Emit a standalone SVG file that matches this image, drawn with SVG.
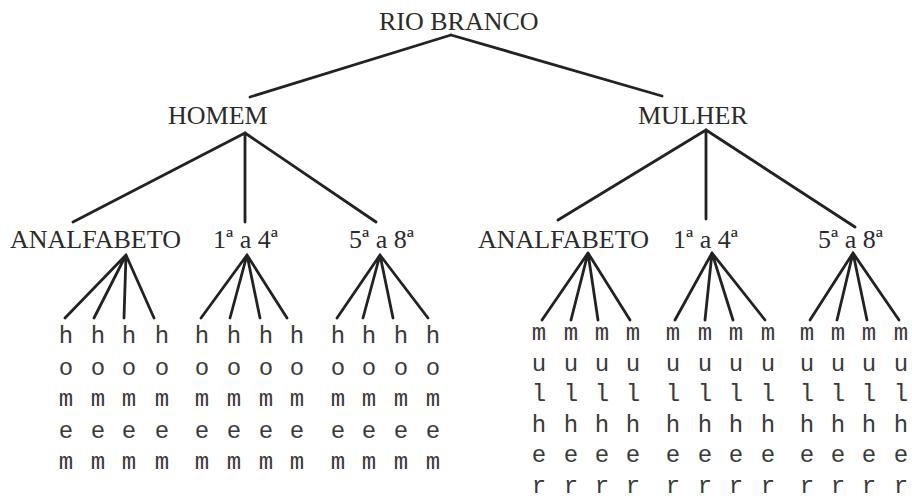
<svg xmlns="http://www.w3.org/2000/svg" width="912" height="502" viewBox="0 0 912 502">
<style>
.lbl{font-family:"Liberation Serif","Times New Roman",serif;font-size:26px;fill:#2b2b2b}
.leaf{font-family:"Courier New","Liberation Mono",monospace;font-size:24px;fill:#3a3a3a;text-anchor:middle}
.edge{stroke:#222;stroke-width:2.8;fill:none;stroke-linecap:round}
</style>
<rect width="912" height="502" fill="#fff"/>
<g id="connectors" class="edge">
<path d="M451,35 L250,97 M451,35 L662,96"/>
<path d="M245,133 L73,222 M245,133 L245,222 M245,133 L376,222"/>
<path d="M706,130 L558,220 M706,130 L706,219 M706,130 L855,227"/>
<path d="M126,255 L65,318 M126,255 L94,318 M126,255 L124,318 M126,255 L154,318"/>
<path d="M247,255 L201,318 M247,255 L230,318 M247,255 L260,318 M247,255 L287,318"/>
<path d="M380,255 L337,318 M380,255 L363,318 M380,255 L393,318 M380,255 L428,318"/>
<path d="M588,253 L542,320 M588,253 L571,320 M588,253 L598,320 M588,253 L630,320"/>
<path d="M712,253 L675,320 M712,253 L705,320 M712,253 L733,320 M712,253 L765,320"/>
<path d="M853,253 L810,320 M853,253 L837,320 M853,253 L867,320 M853,253 L899,320"/>
</g>
<g id="rio-branco"><text class="lbl" x="379" y="30">RIO BRANCO</text></g>
<g id="homem"><text class="lbl" x="168" y="124">HOMEM</text></g>
<g id="mulher"><text class="lbl" x="638" y="124">MULHER</text></g>
<g id="h-analfabeto"><text class="lbl" x="10" y="248">ANALFABETO</text></g>
<g id="h-1a4"><text class="lbl" x="213" y="248">1ª a 4ª</text></g>
<g id="h-5a8"><text class="lbl" x="349" y="248">5ª a 8ª</text></g>
<g id="m-analfabeto"><text class="lbl" x="478" y="248">ANALFABETO</text></g>
<g id="m-1a4"><text class="lbl" x="673" y="248">1ª a 4ª</text></g>
<g id="m-5a8"><text class="lbl" x="818" y="248">5ª a 8ª</text></g>
<g id="h-leaves" class="leaf">
<text x="66" y="343"><tspan x="66">h</tspan><tspan x="66" dy="31.5">o</tspan><tspan x="66" dy="31.5">m</tspan><tspan x="66" dy="31.5">e</tspan><tspan x="66" dy="31.5">m</tspan></text>
<text x="98" y="343"><tspan x="98">h</tspan><tspan x="98" dy="31.5">o</tspan><tspan x="98" dy="31.5">m</tspan><tspan x="98" dy="31.5">e</tspan><tspan x="98" dy="31.5">m</tspan></text>
<text x="129" y="343"><tspan x="129">h</tspan><tspan x="129" dy="31.5">o</tspan><tspan x="129" dy="31.5">m</tspan><tspan x="129" dy="31.5">e</tspan><tspan x="129" dy="31.5">m</tspan></text>
<text x="162" y="343"><tspan x="162">h</tspan><tspan x="162" dy="31.5">o</tspan><tspan x="162" dy="31.5">m</tspan><tspan x="162" dy="31.5">e</tspan><tspan x="162" dy="31.5">m</tspan></text>
<text x="202" y="343"><tspan x="202">h</tspan><tspan x="202" dy="31.5">o</tspan><tspan x="202" dy="31.5">m</tspan><tspan x="202" dy="31.5">e</tspan><tspan x="202" dy="31.5">m</tspan></text>
<text x="234" y="343"><tspan x="234">h</tspan><tspan x="234" dy="31.5">o</tspan><tspan x="234" dy="31.5">m</tspan><tspan x="234" dy="31.5">e</tspan><tspan x="234" dy="31.5">m</tspan></text>
<text x="266" y="343"><tspan x="266">h</tspan><tspan x="266" dy="31.5">o</tspan><tspan x="266" dy="31.5">m</tspan><tspan x="266" dy="31.5">e</tspan><tspan x="266" dy="31.5">m</tspan></text>
<text x="297" y="343"><tspan x="297">h</tspan><tspan x="297" dy="31.5">o</tspan><tspan x="297" dy="31.5">m</tspan><tspan x="297" dy="31.5">e</tspan><tspan x="297" dy="31.5">m</tspan></text>
<text x="338" y="343"><tspan x="338">h</tspan><tspan x="338" dy="31.5">o</tspan><tspan x="338" dy="31.5">m</tspan><tspan x="338" dy="31.5">e</tspan><tspan x="338" dy="31.5">m</tspan></text>
<text x="369" y="343"><tspan x="369">h</tspan><tspan x="369" dy="31.5">o</tspan><tspan x="369" dy="31.5">m</tspan><tspan x="369" dy="31.5">e</tspan><tspan x="369" dy="31.5">m</tspan></text>
<text x="401" y="343"><tspan x="401">h</tspan><tspan x="401" dy="31.5">o</tspan><tspan x="401" dy="31.5">m</tspan><tspan x="401" dy="31.5">e</tspan><tspan x="401" dy="31.5">m</tspan></text>
<text x="433" y="343"><tspan x="433">h</tspan><tspan x="433" dy="31.5">o</tspan><tspan x="433" dy="31.5">m</tspan><tspan x="433" dy="31.5">e</tspan><tspan x="433" dy="31.5">m</tspan></text>
</g>
<g id="m-leaves" class="leaf">
<text x="539" y="340"><tspan x="539">m</tspan><tspan x="539" dy="30.6">u</tspan><tspan x="539" dy="30.6">l</tspan><tspan x="539" dy="30.6">h</tspan><tspan x="539" dy="30.6">e</tspan><tspan x="539" dy="30.6">r</tspan></text>
<text x="571" y="340"><tspan x="571">m</tspan><tspan x="571" dy="30.6">u</tspan><tspan x="571" dy="30.6">l</tspan><tspan x="571" dy="30.6">h</tspan><tspan x="571" dy="30.6">e</tspan><tspan x="571" dy="30.6">r</tspan></text>
<text x="602" y="340"><tspan x="602">m</tspan><tspan x="602" dy="30.6">u</tspan><tspan x="602" dy="30.6">l</tspan><tspan x="602" dy="30.6">h</tspan><tspan x="602" dy="30.6">e</tspan><tspan x="602" dy="30.6">r</tspan></text>
<text x="633" y="340"><tspan x="633">m</tspan><tspan x="633" dy="30.6">u</tspan><tspan x="633" dy="30.6">l</tspan><tspan x="633" dy="30.6">h</tspan><tspan x="633" dy="30.6">e</tspan><tspan x="633" dy="30.6">r</tspan></text>
<text x="673" y="340"><tspan x="673">m</tspan><tspan x="673" dy="30.6">u</tspan><tspan x="673" dy="30.6">l</tspan><tspan x="673" dy="30.6">h</tspan><tspan x="673" dy="30.6">e</tspan><tspan x="673" dy="30.6">r</tspan></text>
<text x="705" y="340"><tspan x="705">m</tspan><tspan x="705" dy="30.6">u</tspan><tspan x="705" dy="30.6">l</tspan><tspan x="705" dy="30.6">h</tspan><tspan x="705" dy="30.6">e</tspan><tspan x="705" dy="30.6">r</tspan></text>
<text x="736" y="340"><tspan x="736">m</tspan><tspan x="736" dy="30.6">u</tspan><tspan x="736" dy="30.6">l</tspan><tspan x="736" dy="30.6">h</tspan><tspan x="736" dy="30.6">e</tspan><tspan x="736" dy="30.6">r</tspan></text>
<text x="768" y="340"><tspan x="768">m</tspan><tspan x="768" dy="30.6">u</tspan><tspan x="768" dy="30.6">l</tspan><tspan x="768" dy="30.6">h</tspan><tspan x="768" dy="30.6">e</tspan><tspan x="768" dy="30.6">r</tspan></text>
<text x="807" y="340"><tspan x="807">m</tspan><tspan x="807" dy="30.6">u</tspan><tspan x="807" dy="30.6">l</tspan><tspan x="807" dy="30.6">h</tspan><tspan x="807" dy="30.6">e</tspan><tspan x="807" dy="30.6">r</tspan></text>
<text x="838" y="340"><tspan x="838">m</tspan><tspan x="838" dy="30.6">u</tspan><tspan x="838" dy="30.6">l</tspan><tspan x="838" dy="30.6">h</tspan><tspan x="838" dy="30.6">e</tspan><tspan x="838" dy="30.6">r</tspan></text>
<text x="869" y="340"><tspan x="869">m</tspan><tspan x="869" dy="30.6">u</tspan><tspan x="869" dy="30.6">l</tspan><tspan x="869" dy="30.6">h</tspan><tspan x="869" dy="30.6">e</tspan><tspan x="869" dy="30.6">r</tspan></text>
<text x="901" y="340"><tspan x="901">m</tspan><tspan x="901" dy="30.6">u</tspan><tspan x="901" dy="30.6">l</tspan><tspan x="901" dy="30.6">h</tspan><tspan x="901" dy="30.6">e</tspan><tspan x="901" dy="30.6">r</tspan></text>
</g>
</svg>
